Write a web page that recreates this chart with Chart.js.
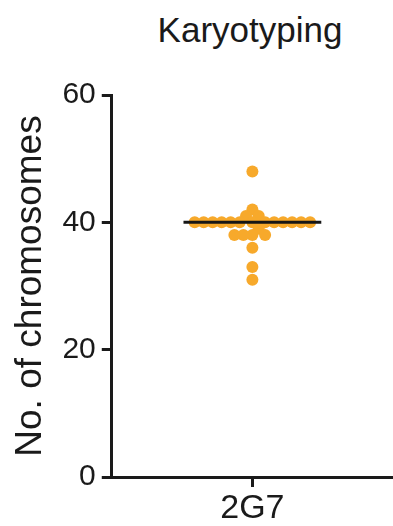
<!DOCTYPE html>
<html>
<head>
<meta charset="utf-8">
<script src="https://cdn.jsdelivr.net/npm/chart.js@4/dist/chart.umd.min.js"></script>
<style>
  html, body { margin: 0; padding: 0; background: #fff; }
  #wrap { position: relative; width: 393px; height: 526px; }
  #titulo {
    position: absolute; left: 107px; right: 0; top: 12px;
    text-align: center; font-family: "Liberation Sans", Arial, sans-serif;
    font-size: 35px; line-height: 35px; color: #1a1a1a;
  }
  canvas { position: absolute; left: 0; top: 0; }
</style>
</head>
<body>
<div id="wrap">
  <div id="titulo">Karyotyping</div>
  <canvas id="chartKaryo" width="393" height="526"></canvas>
</div>
<script>
// Datos
const categories = ['2G7'];
const chromosomeCounts = [48, 42, 41, 41,
  40, 40, 40, 40, 40, 40, 40, 40, 40, 40, 40, 40, 40,
  39, 38, 38, 38, 38, 36, 33, 31];
const yTicks = [0, 20, 40, 60];

const FONT = '"Liberation Sans", Arial, sans-serif';
const COLOR_PUNTO = '#F7A92B';

function mediana(arr) {
  const s = [...arr].sort((a, b) => a - b);
  const m = Math.floor(s.length / 2);
  return s.length % 2 ? s[m] : (s[m - 1] + s[m]) / 2;
}

// Beeswarm simple: cada punto busca el desplazamiento más cercano al centro sin chocar
function calcularEnjambre(valores, yScale, distancia) {
  const orden = valores.map((v, i) => i).sort((a, b) => valores[b] - valores[a]);
  const colocados = [];
  const offsets = new Array(valores.length).fill(0);
  orden.forEach(i => {
    const py = yScale.getPixelForValue(valores[i]);
    const prohibidos = [];
    colocados.forEach(p => {
      const dy = Math.abs(p.y - py);
      if (dy < distancia) {
        const w = Math.sqrt(distancia * distancia - dy * dy);
        prohibidos.push([p.x - w, p.x + w]);
      }
    });
    const candidatos = [0];
    prohibidos.forEach(([a, b]) => { candidatos.push(a, b); });
    candidatos.sort((a, b) => Math.abs(a) - Math.abs(b) || b - a);
    let elegido = 0;
    for (const c of candidatos) {
      if (prohibidos.every(([a, b]) => c <= a + 1e-6 || c >= b - 1e-6)) { elegido = c; break; }
    }
    offsets[i] = elegido;
    colocados.push({ x: elegido, y: py });
  });
  return offsets;
}

const med = mediana(chromosomeCounts);

const chart = new Chart(document.getElementById('chartKaryo'), {
  type: 'scatter',
  data: {
    datasets: [
      {
        type: 'line',
        data: [{ x: -0.49, y: med }, { x: 0.49, y: med }],
        borderColor: '#161616',
        borderWidth: 3,
        pointRadius: 0,
        order: 0
      },
      {
        data: chromosomeCounts.map(v => ({ x: 0, y: v })),
        backgroundColor: COLOR_PUNTO,
        borderWidth: 0,
        pointRadius: 6,
        order: 1
      }
    ]
  },
  options: {
    responsive: false,
    animation: false,
    layout: { autoPadding: false, padding: { left: 9, right: 0, top: 95, bottom: -5 } },
    plugins: { legend: { display: false }, tooltip: { enabled: false } },
    scales: {
      x: {
        type: 'linear',
        min: -1, max: 1,
        afterBuildTicks: scale => { scale.ticks = [{ value: 0 }]; },
        ticks: {
          callback: v => (v === 0 ? categories[0] : ''),
          font: { family: FONT, size: 34, lineHeight: 1.0 },
          color: '#1a1a1a',
          padding: 5,
          maxRotation: 0
        },
        grid: { drawOnChartArea: false, tickLength: 10, tickWidth: 3, tickColor: '#1a1a1a' },
        border: { color: '#1a1a1a', width: 3 }
      },
      y: {
        min: 0, max: 60,
        afterBuildTicks: scale => { scale.ticks = yTicks.map(v => ({ value: v })); },
        ticks: {
          font: { family: FONT, size: 30 },
          color: '#1a1a1a',
          padding: 6
        },
        grid: { drawOnChartArea: false, tickLength: 10, tickWidth: 3, tickColor: '#1a1a1a' },
        border: { color: '#1a1a1a', width: 3 },
        title: {
          display: true,
          text: 'No. of chromosomes',
          font: { family: FONT, size: 37 },
          color: '#1a1a1a',
          padding: { top: 0, bottom: 3 }
        }
      }
    }
  }
});

// Recalcular posiciones horizontales con las escalas reales
const offsetsPx = calcularEnjambre(chromosomeCounts, chart.scales.y, 9);
const pxPorUnidad = chart.scales.x.getPixelForValue(1) - chart.scales.x.getPixelForValue(0);
chart.data.datasets[1].data = chromosomeCounts.map((v, i) => ({ x: offsetsPx[i] / pxPorUnidad, y: v }));
chart.update('none');
</script>
</body>
</html>
